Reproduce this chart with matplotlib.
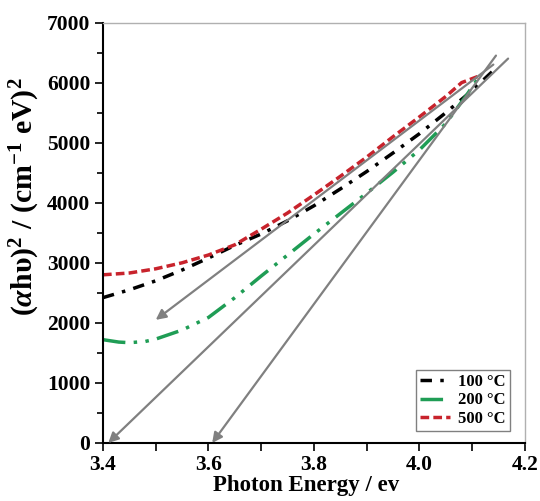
import matplotlib
matplotlib.use('Agg')
import matplotlib.pyplot as plt

plt.rcParams['font.family'] = 'Liberation Serif'
plt.rcParams['font.weight'] = 'bold'
plt.rcParams['mathtext.fontset'] = 'custom'
plt.rcParams['mathtext.rm'] = 'Liberation Serif:bold'
plt.rcParams['mathtext.it'] = 'Liberation Serif:bold:italic'
plt.rcParams['mathtext.bf'] = 'Liberation Serif:bold'

# Tauc plot curves
e_100 = [3.40, 3.45, 3.50, 3.55, 3.60, 3.65, 3.70, 3.75, 3.80, 3.85, 3.90, 3.95, 4.00, 4.05, 4.10, 4.14]
y_100 = [2420, 2550, 2700, 2880, 3080, 3290, 3480, 3700, 3950, 4230, 4520, 4830, 5150, 5500, 5870, 6200]

e_200 = [3.40, 3.43, 3.45, 3.48, 3.50, 3.55, 3.60, 3.65, 3.70, 3.75, 3.80, 3.85, 3.90, 3.95, 4.00, 4.05, 4.09, 4.11]
y_200 = [1720, 1680, 1670, 1690, 1730, 1880, 2090, 2420, 2780, 3130, 3480, 3820, 4160, 4510, 4880, 5320, 5800, 6060]

e_500 = [3.40, 3.45, 3.50, 3.55, 3.60, 3.65, 3.70, 3.75, 3.80, 3.85, 3.90, 3.95, 4.00, 4.05, 4.08, 4.11]
y_500 = [2800, 2830, 2900, 3000, 3130, 3300, 3560, 3830, 4130, 4440, 4760, 5100, 5430, 5770, 6000, 6100]

labels = ['100 °C', '200 °C', '500 °C']

# extrapolation lines: (start x, start y) -> (arrow tip x, tip y)
fit_start = [(4.168, 6400), (4.145, 6450), (4.140, 6300)]
fit_end = [(3.410, 0), (3.607, 0), (3.500, 2050)]

fig = plt.figure(figsize=(5.4, 5.01), dpi=100)
ax = fig.add_axes([0.1907, 0.1158, 0.7815, 0.8392])

for (x0, y0), (x1, y1) in zip(fit_start, fit_end):
    ax.annotate('', xy=(x1, y1), xytext=(x0, y0),
                arrowprops=dict(arrowstyle='-|>', color='#808080', lw=1.6,
                                mutation_scale=15, shrinkA=0, shrinkB=0))

ax.plot(e_100, y_100, color='black', lw=2.5, dashes=(3.3, 2.4, 1, 2.4), label=labels[0])
ax.plot(e_200, y_200, color='#1f9d55', lw=2.5, dashes=(6.5, 2.4, 1, 2.4, 1, 2.4), label=labels[1])
ax.plot(e_500, y_500, color='#c8232c', lw=2.5, dashes=(2.5, 1.2), label=labels[2])

ax.set_xlim(3.4, 4.2)
ax.set_ylim(0, 7000)
ax.set_xticks([3.4, 3.6, 3.8, 4.0, 4.2])
ax.set_xticklabels(['3.4', '3.6', '3.8', '4.0', '4.2'])
ax.set_xticks([3.5, 3.7, 3.9, 4.1], minor=True)
ax.set_yticks(range(0, 7001, 1000))
ax.set_yticks(range(500, 7000, 1000), minor=True)
ax.tick_params(which='major', direction='out', length=6, width=1.2, labelsize=15.5, pad=3)
ax.tick_params(which='minor', direction='out', length=4, width=1.2)
ax.tick_params(axis='x', which='minor', length=6)

for s in ['top', 'right']:
    ax.spines[s].set_color('#b0b0b0')
    ax.spines[s].set_linewidth(1.0)
for s in ['left', 'bottom']:
    ax.spines[s].set_linewidth(1.5)

ax.set_xlabel('Photon Energy / ev', fontsize=16.5, fontweight='bold', labelpad=1)
ax.xaxis.set_label_coords(0.481, -0.075)
ax.set_ylabel(r'$(\alpha\mathrm{h}\mathrm{\upsilon})^2$ / (cm$^{-1}$ eV)$^2$', fontsize=21.5, fontweight='bold')
ax.yaxis.set_label_coords(-0.145, 0.585)

leg = ax.legend(loc='lower right', fontsize=12, frameon=True, fancybox=False,
                edgecolor='#606060', handlelength=1.8, handletextpad=0.5, borderpad=0.25,
                labelspacing=0.15, borderaxespad=0, bbox_to_anchor=(0.9645, 0.0285))
leg.get_frame().set_linewidth(1.0)

fig.savefig('out.png', dpi=100)
